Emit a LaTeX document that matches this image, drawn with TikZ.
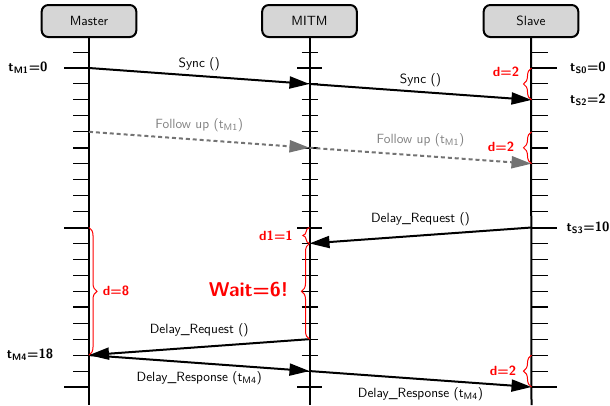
\documentclass[tikz,border=0pt]{standalone}
\usetikzlibrary{arrows.meta,decorations.pathreplacing}
\begin{document}
\begin{tikzpicture}[x=0.75pt,y=-0.75pt,font=\sffamily,
  actor/.style={draw,line width=1.5pt,rounded corners=5pt,fill=black!16,minimum width=71pt,minimum height=24pt,inner sep=0pt},
  life/.style={line width=1.5pt},
  msg/.style={line width=1.5pt,-{Triangle[length=15pt,width=9pt]}},
  fmsg/.style={msg,color=black!55,dash pattern=on 3pt off 2.2pt},
  tkn/.style={line width=0.75pt},
  tkb/.style={line width=1.5pt},
  dbr/.style={draw=red,line width=0.75pt,decorate,decoration={brace,amplitude=6pt}},
  dlab/.style={text=red,font=\sffamily\bfseries,inner sep=0pt},
  tlab/.style={font=\sffamily\bfseries,inner sep=0pt},
  mlab/.style={inner sep=0pt}]
\useasboundingbox (0,0) rectangle (610,405);

% actors
\node[actor] (master) at (89,21) {Master};
\node[actor] (mitm) at (309.5,21) {MITM};
\node[actor] (slave) at (531,21) {Slave};
\coordinate (mend) at (89,405);
\coordinate (iend) at (309.5,405);
\coordinate (send) at (531.5,405);

% ticks
\foreach \k in {-1,...,20}{
  \pgfmathsetmacro\yy{68+15.95*\k}
  \pgfmathtruncatemacro\five{mod(\k+10,5)}
  \pgfmathtruncatemacro\ten{mod(\k+10,10)}
  \ifnum\ten=0
    \draw[tkb] (64,\yy) -- (89,\yy);
    \draw[tkb] (297,\yy) -- (322,\yy);
    \draw[tkb] (532,\yy) -- (557,\yy);
  \else\ifnum\five=0
    \draw[tkb] (73,\yy) -- (89,\yy);
    \draw[tkb] (301.5,\yy) -- (317.5,\yy);
    \draw[tkb] (532,\yy) -- (548,\yy);
  \else
    \draw[tkn] (73,\yy) -- (89,\yy);
    \draw[tkn] (301.5,\yy) -- (317.5,\yy);
    \draw[tkn] (532,\yy) -- (548,\yy);
  \fi\fi
}

% lifelines
\draw[life] (master.south) -- (mend);
\draw[life] (mitm.south) -- (iend);
\draw[life] (slave.south) -- (send);

% event points
\coordinate (M0) at (89,68);
\coordinate (M4) at (89,131.8);
\coordinate (M10) at (89,227.5);
\coordinate (M18) at (89,355.1);
\coordinate (I1) at (309.5,83.95);
\coordinate (I5) at (309.5,147.75);
\coordinate (I10) at (309.5,227.5);
\coordinate (I11) at (309.5,243.45);
\coordinate (I17) at (309.5,339.15);
\coordinate (I19) at (309.5,371.05);
\coordinate (S0) at (531.5,68);
\coordinate (S2) at (531.5,99.9);
\coordinate (S4) at (531.5,131.8);
\coordinate (S6) at (531.5,163.7);
\coordinate (S10) at (531.5,227.5);
\coordinate (S18) at (531.5,355.1);
\coordinate (S20) at (531.5,387);

% messages
\draw[msg] (M0) -- (I1) node[mlab,midway,yshift=9pt] (l1) {Sync ()};
\draw[msg] (I1) -- (S2) node[mlab,midway,yshift=8.5pt] (l2) {Sync ()};
\draw[fmsg] (M4) -- (I5) node[mlab,midway,yshift=11pt,text=black!50] (l3) {Follow up (t\textsubscript{M1})};
\draw[fmsg] (I5) -- (S6) node[mlab,midway,yshift=12pt,text=black!50] (l4) {Follow up (t\textsubscript{M1})};
\draw[msg] (S10) -- (I11) node[mlab,midway,yshift=12pt] (l5) {Delay\_Request ()};
\draw[msg] (I17) -- (M18) node[mlab,midway,yshift=13pt] (l6) {Delay\_Request ()};
\draw[msg] (M18) -- (I19) node[mlab,midway,yshift=-11pt] (l7) {Delay\_Response (t\textsubscript{M4})};
\draw[msg] (I19) -- (S20) node[mlab,midway,yshift=-11pt] (l8) {Delay\_Response (t\textsubscript{M4})};

% time labels
\node[tlab] (tm1) at (28,68) {t\textsubscript{M1}=0};
\node[tlab] (tm4) at (30,355) {t\textsubscript{M4}=18};
\node[tlab] (ts0) at (588,68) {t\textsubscript{S0}=0};
\node[tlab] (ts2) at (588,100) {t\textsubscript{S2}=2};
\node[tlab] (ts3) at (588,228) {t\textsubscript{S3}=10};

% braces
\draw[dbr] (S2) -- (S0);
\draw[dbr] (S6) -- (S4);
\draw[dbr] (S20) -- (S18);
\draw[dbr,decoration={brace,amplitude=5pt}] (I11) -- (I10);
\draw[dbr] (I17) -- (I11);
\draw[dbr] (M10) -- (M18);

\node[dlab] (d1) at (506,72) {d=2};
\node[dlab] (d2) at (501,147) {d=2};
\node[dlab] (d3) at (503,371) {d=2};
\node[dlab] (d4) at (276,236) {d1=1};
\node[dlab,font=\sffamily\bfseries\fontsize{15}{18}\selectfont] (d5) at (248.5,290) {Wait=6!};
\node[dlab] (d6) at (116,291) {d=8};
\end{tikzpicture}
\end{document}
